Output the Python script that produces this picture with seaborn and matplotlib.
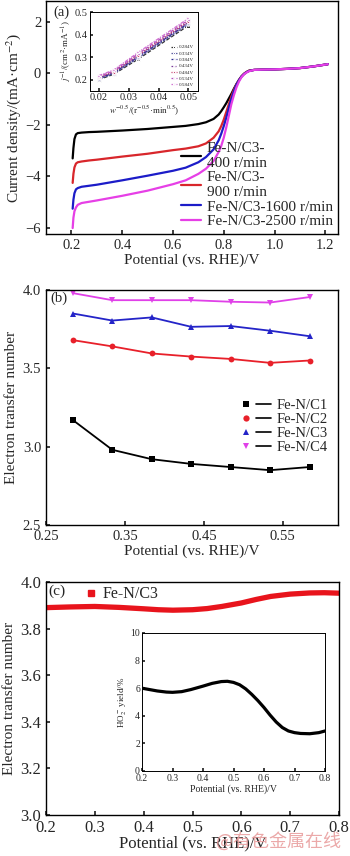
import numpy as np
import pandas as pd
import matplotlib
matplotlib.use("Agg")
import matplotlib.pyplot as plt
import seaborn as sns
from matplotlib.lines import Line2D
from matplotlib.legend_handler import HandlerTuple

# ---------------- data ----------------
# (a) LSV curves
pot_a = [0.205, 0.208, 0.212, 0.218, 0.225, 0.24, 0.27, 0.30, 0.40, 0.50, 0.60, 0.65, 0.70,
         0.73, 0.76, 0.78, 0.79, 0.80, 0.81, 0.82, 0.83, 0.84, 0.85, 0.86, 0.87, 0.88, 0.89,
         0.90, 0.92, 0.95, 1.00, 1.05, 1.10, 1.15, 1.21]
j_400 = [-3.3, -2.9, -2.55, -2.37, -2.32, -2.30, -2.28, -2.27, -2.22, -2.16, -2.08, -2.04, -1.97,
         -1.90, -1.77, -1.60, -1.47, -1.32, -1.16, -0.98, -0.80, -0.60, -0.42, -0.26, -0.12, -0.02, 0.05,
         0.10, 0.13, 0.14, 0.15, 0.17, 0.20, 0.26, 0.35]
j_900 = [-4.25, -3.9, -3.65, -3.50, -3.45, -3.42, -3.38, -3.35, -3.23, -3.12, -2.98, -2.92, -2.83,
         -2.72, -2.50, -2.25, -2.05, -1.80, -1.50, -1.20, -0.90, -0.64, -0.43, -0.26, -0.12, -0.02, 0.05,
         0.10, 0.13, 0.14, 0.15, 0.17, 0.20, 0.26, 0.35]
j_1600 = [-5.25, -4.9, -4.65, -4.50, -4.45, -4.40, -4.36, -4.32, -4.15, -3.97, -3.78, -3.66, -3.45,
          -3.25, -2.95, -2.60, -2.35, -2.05, -1.72, -1.35, -1.00, -0.70, -0.45, -0.27, -0.13, -0.03, 0.04,
          0.09, 0.13, 0.14, 0.15, 0.17, 0.20, 0.26, 0.35]
j_2500 = [-6.0, -5.6, -5.35, -5.20, -5.10, -5.03, -4.98, -4.93, -4.75, -4.55, -4.30, -4.15, -3.90,
          -3.70, -3.40, -3.05, -2.82, -2.50, -2.10, -1.65, -1.20, -0.85, -0.55, -0.32, -0.15, -0.04, 0.03,
          0.08, 0.13, 0.14, 0.15, 0.17, 0.20, 0.26, 0.35]
lsv_labels = ["Fe-N/C3-\n400 r/min", "Fe-N/C3-\n900 r/min", "Fe-N/C3-1600 r/min", "Fe-N/C3-2500 r/min"]

# (a) inset: K-L plots
w_inv = [0.02, 0.025, 0.0333, 0.05]
kl_labels = ["0.284V", "0.334V", "0.384V", "0.434V", "0.484V", "0.534V", "0.584V"]
kl_vals = [
    [0.200, 0.224, 0.292, 0.440],
    [0.203, 0.227, 0.297, 0.446],
    [0.205, 0.230, 0.302, 0.451],
    [0.208, 0.233, 0.306, 0.455],
    [0.211, 0.236, 0.311, 0.460],
    [0.214, 0.239, 0.316, 0.465],
    [0.218, 0.243, 0.322, 0.472],
]

# (b) electron transfer number
pot_b = [0.284, 0.334, 0.384, 0.434, 0.484, 0.534, 0.584]
n_c1 = [3.17, 2.98, 2.92, 2.89, 2.87, 2.85, 2.87]
n_c2 = [3.68, 3.64, 3.595, 3.575, 3.56, 3.535, 3.55]
n_c3 = [3.85, 3.805, 3.825, 3.765, 3.77, 3.74, 3.705]
n_c4 = [3.98, 3.935, 3.935, 3.935, 3.925, 3.92, 3.955]
b_labels = ["Fe-N/C1", "Fe-N/C2", "Fe-N/C3", "Fe-N/C4"]

# (c) RRDE
pot_c = [0.20, 0.25, 0.30, 0.35, 0.40, 0.43, 0.46, 0.50, 0.53, 0.56, 0.60, 0.63, 0.66, 0.70,
         0.74, 0.77, 0.80]
n_c = [3.890, 3.893, 3.895, 3.891, 3.885, 3.881, 3.879, 3.881, 3.886, 3.895, 3.910, 3.925,
       3.938, 3.948, 3.953, 3.954, 3.952]
pot_ci = [0.20, 0.22, 0.25, 0.28, 0.30, 0.33, 0.36, 0.40, 0.43, 0.46, 0.48, 0.50, 0.52, 0.54,
          0.56, 0.58, 0.60, 0.62, 0.64, 0.66, 0.68, 0.70, 0.72, 0.75, 0.78, 0.80]
ho2 = [6.0, 5.92, 5.8, 5.72, 5.7, 5.75, 5.9, 6.15, 6.35, 6.48, 6.5, 6.42, 6.25, 5.95,
       5.55, 5.1, 4.6, 4.05, 3.55, 3.15, 2.9, 2.78, 2.72, 2.7, 2.78, 2.9]

# ---------------- style ----------------
sns.set_theme(style="ticks")
plt.rcParams['font.family'] = ['Liberation Serif', 'DejaVu Serif']
plt.rcParams['mathtext.fontset'] = 'stix'
plt.rcParams['xtick.direction'] = 'in'
plt.rcParams['ytick.direction'] = 'in'
plt.rcParams['axes.linewidth'] = 1.0
plt.rcParams['axes.edgecolor'] = 'black'

fig = plt.figure(figsize=(3.5, 8.56), dpi=100)
W, H = 350, 856

def add_ax(x0, y0, x1, y1):
    return fig.add_axes([x0 / W, 1 - y1 / H, (x1 - x0) / W, (y1 - y0) / H])

# ---------------- (a) ----------------
ax_a = add_ax(46, 1, 338, 234)
df_a = pd.DataFrame({
    "pot": pot_a * 4,
    "j": j_400 + j_900 + j_1600 + j_2500,
    "s": sum([[l] * len(pot_a) for l in lsv_labels], []),
})
cols_a = ["#000000", "#d8262b", "#1c1cc8", "#e63fe6"]
sns.lineplot(data=df_a, x="pot", y="j", hue="s", palette=cols_a, ax=ax_a,
             linewidth=1.6, sort=False, estimator=None)
ax_a.set_xlim(0.1, 1.25)
ax_a.set_ylim(-6.23, 2.8)
ax_a.set_xticks([0.2, 0.4, 0.6, 0.8, 1.0, 1.2])
ax_a.set_xticklabels(["0.2", "0.4", "0.6", "0.8", "1.0", "1.2"])
ax_a.set_yticks([-6, -4, -2, 0, 2])
ax_a.set_yticklabels(["\u22126", "\u22124", "\u22122", "0", "2"])
ax_a.tick_params(labelsize=10.5, length=3)
ax_a.set_xlabel("Potential (vs. RHE)/V", fontsize=11, labelpad=1)
ax_a.set_ylabel("Current density/(mA\u00b7cm$^{-2}$)", fontsize=11, labelpad=2)
ax_a.text(0.13, 2.35, "(a)", fontsize=10.5, va='center')
leg = ax_a.legend(loc='lower right', bbox_to_anchor=(1.02, -0.02), frameon=False, fontsize=11,
                  handlelength=1.3, handletextpad=0.4, labelspacing=0.05, borderpad=0.2)
for t in leg.get_texts():
    t.set_multialignment('left')

# inset a
ax_ai = add_ax(90, 12, 198, 91)
kl_cols = ["#303030", "#5a5aa0", "#2a2a90", "#7a3a9a", "#c03060", "#b050c0", "#d070d0"]
df_k = pd.DataFrame({
    "w": w_inv * 7,
    "jinv": sum(kl_vals, []),
    "p": sum([[l] * 4 for l in kl_labels], []),
})
sns.lineplot(data=df_k, x="w", y="jinv", hue="p", style="p", palette=kl_cols,
             dashes=[(3, 1.5), (2, 1), (3, 1, 1, 1), (1.5, 1), (1, 1), (2.5, 1.5), (3, 1, 1, 1)],
             markers=["s", "o", "^", "v", "D", "<", ">"], markersize=2.5, linewidth=0.9,
             ax=ax_ai, legend=True)
ax_ai.set_xlim(0.0171, 0.0532)
ax_ai.set_ylim(0.15, 0.5)
ax_ai.set_xticks([0.02, 0.03, 0.04, 0.05])
ax_ai.set_xticklabels(["0.02", "0.03", "0.04", "0.05"])
ax_ai.set_yticks([0.2, 0.3, 0.4, 0.5])
ax_ai.set_yticklabels(["0.2", "0.3", "0.4", "0.5"])
ax_ai.tick_params(labelsize=7.5, length=2, pad=1.5)
ax_ai.set_xlabel("$w^{-0.5}$/(r$^{-0.5}$\u00b7min$^{0.5}$)", fontsize=6.5, labelpad=1)
ax_ai.set_ylabel("$j^{-1}$/(cm$^{2}$\u00b7mA$^{-1}$)", fontsize=6.5, labelpad=1)
for s in ax_ai.spines.values():
    s.set_linewidth(0.7)
ax_ai.legend(loc='lower right', frameon=False, fontsize=3.6, handlelength=1.2,
             handletextpad=0.4, labelspacing=0.35, borderpad=0.3, markerscale=0.6)

# ---------------- (b) ----------------
ax_b = add_ax(46, 290, 338, 525)
df_b = pd.DataFrame({
    "pot": pot_b * 4,
    "n": n_c1 + n_c2 + n_c3 + n_c4,
    "s": sum([[l] * len(pot_b) for l in b_labels], []),
})
cols_b = ["#000000", "#e8202a", "#2424c8", "#e040e8"]
mk_b = ["s", "o", "^", "v"]
sns.lineplot(data=df_b, x="pot", y="n", hue="s", style="s", palette=cols_b,
             markers=mk_b, dashes=False, markersize=4.2, markeredgewidth=0,
             linewidth=1.3, ax=ax_b, legend=False)
ax_b.set_xlim(0.25, 0.62)
ax_b.set_ylim(2.5, 4.0)
ax_b.set_xticks([0.25, 0.35, 0.45, 0.55])
ax_b.set_xticklabels(["0.25", "0.35", "0.45", "0.55"])
ax_b.set_yticks([2.5, 3.0, 3.5, 4.0])
ax_b.set_yticklabels(["2.5", "3.0", "3.5", "4.0"])
ax_b.tick_params(labelsize=10.5, length=3)
ax_b.set_xlabel("Potential (vs. RHE)/V", fontsize=11, labelpad=1)
ax_b.set_ylabel("Electron transfer number", fontsize=11, labelpad=3)
ax_b.text(0.255, 3.95, "(b)", fontsize=10.5, va='center')
handles = []
for c, m in zip(cols_b, mk_b):
    h1 = Line2D([], [], color=c, marker=m, linestyle='none', markersize=4.5, markeredgewidth=0)
    h2 = Line2D([], [], color='black', linewidth=1.2)
    handles.append((h1, h2))
ax_b.legend(handles, b_labels, handler_map={tuple: HandlerTuple(ndivide=None, pad=0.2)},
            loc='lower right', bbox_to_anchor=(1.0, 0.26), frameon=False, fontsize=10.5,
            handlelength=2.2, handletextpad=0.4, labelspacing=0.05, borderpad=0.2)

# ---------------- (c) ----------------
ax_c = add_ax(46, 582, 339, 815)
df_c = pd.DataFrame({"pot": pot_c, "n": n_c})
sns.lineplot(data=df_c, x="pot", y="n", color="#e8141c", linewidth=3.8, ax=ax_c, legend=False)
ax_c.set_xlim(0.2, 0.8)
ax_c.set_ylim(3.0, 4.0)
ax_c.set_xticks([0.2, 0.3, 0.4, 0.5, 0.6, 0.7, 0.8])
ax_c.set_xticklabels(["0.2", "0.3", "0.4", "0.5", "0.6", "0.7", "0.8"])
ax_c.set_yticks([3.0, 3.2, 3.4, 3.6, 3.8, 4.0])
ax_c.set_yticklabels(["3.0", "3.2", "3.4", "3.6", "3.8", "4.0"])
ax_c.tick_params(labelsize=12, length=3)
ax_c.set_xlabel("Potential (vs. RHE)/V", fontsize=12, labelpad=0)
ax_c.set_ylabel("Electron transfer number", fontsize=11, labelpad=3)
ax_c.text(0.205, 3.96, "(c)", fontsize=11, va='center')
hc = Line2D([], [], color="#e8141c", marker='s', linestyle='none', markersize=4)
ax_c.legend([hc], ["Fe-N/C3"], loc='upper left', bbox_to_anchor=(0.1, 1.03), frameon=False,
            fontsize=11.5, handlelength=0.6, handletextpad=0.4, borderpad=0.2)

# inset c
ax_ci = add_ax(142, 633, 325, 771)
df_ci = pd.DataFrame({"pot": pot_ci, "y": ho2})
sns.lineplot(data=df_ci, x="pot", y="y", color="black", linewidth=2.3, ax=ax_ci)
ax_ci.set_xlim(0.2, 0.8)
ax_ci.set_ylim(0, 10)
ax_ci.set_xticks([0.2, 0.3, 0.4, 0.5, 0.6, 0.7, 0.8])
ax_ci.set_xticklabels(["0.2", "0.3", "0.4", "0.5", "0.6", "0.7", "0.8"])
ax_ci.set_yticks([0, 2, 4, 6, 8, 10])
ax_ci.set_yticklabels(["0", "2", "4", "6", "8", "10"])
ax_ci.tick_params(labelsize=7, length=2, pad=1.5)
ax_ci.tick_params(axis='x', pad=2.5)
ax_ci.set_xlabel("Potential (vs. RHE)/V", fontsize=7, labelpad=1)
ax_ci.set_ylabel("HO$_2^-$ yield/%", fontsize=6.5, labelpad=1)
for s in ax_ci.spines.values():
    s.set_linewidth(0.7)

fig.text(0.975, 0.006, "@有色金属在线", fontsize=13, color="#e89a9a", alpha=0.85,
         ha='right', va='bottom', family=['Noto Sans CJK SC', 'DejaVu Sans'])

fig.savefig("out.png", dpi=100)
